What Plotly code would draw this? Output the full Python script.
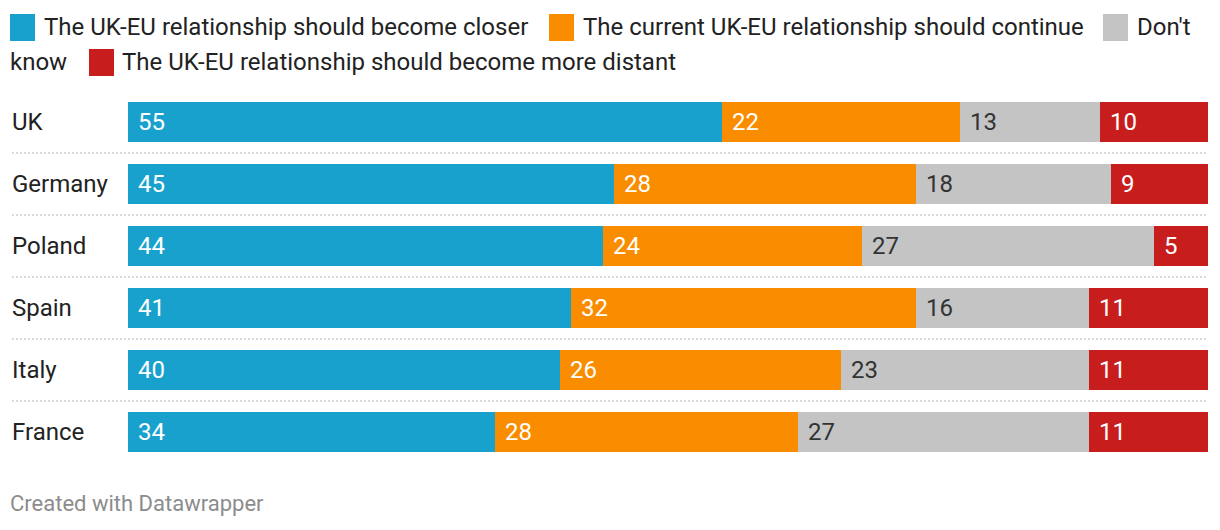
import plotly.graph_objects as go

countries = ["UK", "Germany", "Poland", "Spain", "Italy", "France"]
closer = [55, 45, 44, 41, 40, 34]
continue_ = [22, 28, 24, 32, 26, 28]
dont_know = [13, 18, 27, 16, 23, 27]
distant = [10, 9, 5, 11, 11, 11]

series_names = [
    "The UK-EU relationship should become closer",
    "The current UK-EU relationship should continue",
    "Don't know",
    "The UK-EU relationship should become more distant",
]
series_values = [closer, continue_, dont_know, distant]
colors = ["#18a1cd", "#fa8c00", "#c4c4c4", "#c71e1d"]
label_colors = ["#ffffff", "#ffffff", "#333333", "#ffffff"]

OFF = 8  # page body margin
W, H = 1204, 514
ML, MR, MT, MB = 120, 4, 83, 59
PW = W - ML - MR
PH = H - MT - MB
FONT = "Roboto"
FS = 24


def px_x(px):
    return (px - OFF - ML) / PW


def px_y(py):
    return (H - MB - (py - OFF)) / PH


fig = go.Figure()
for name, vals, col in zip(series_names, series_values, colors):
    fig.add_trace(go.Bar(
        y=countries, x=vals, name=name, orientation="h",
        marker=dict(color=col, line=dict(width=0)),
        width=0.645, showlegend=False, hoverinfo="x+y+name",
    ))

annotations = []
shapes = []

for i, c in enumerate(countries):
    base = 0
    for vals, lc in zip(series_values, label_colors):
        annotations.append(dict(
            x=base, y=c, xref="x", yref="y", text=str(vals[i]),
            showarrow=False, xanchor="left", yanchor="middle", xshift=8,
            font=dict(family=FONT, size=FS, color=lc),
        ))
        base += vals[i]
    annotations.append(dict(
        x=px_x(10), y=c, xref="paper", yref="y", text=c, showarrow=False,
        xanchor="left", yanchor="middle",
        font=dict(family=FONT, size=FS, color="#222222"),
    ))

for i in range(len(countries) - 1):
    shapes.append(dict(
        type="line", xref="paper", yref="y", x0=px_x(12), x1=px_x(1208),
        y0=i + 0.5, y1=i + 0.5,
        line=dict(color="#d9d9d9", width=2, dash="2px,2px"),
    ))

legend_items = [
    (10, 14, colors[0], series_names[0], 42, 27),
    (549, 14, colors[1], series_names[1], 581, 27),
    (1103, 14, colors[2], "Don't", 1135, 27),
    (89, 49, colors[3], series_names[3], 120, 62),
]
for sx, sy, col, txt, tx, ty in legend_items:
    shapes.append(dict(
        type="rect", xref="paper", yref="paper",
        x0=px_x(sx), x1=px_x(sx + 25), y0=px_y(sy), y1=px_y(sy + 27),
        fillcolor=col, line=dict(width=0),
    ))
    annotations.append(dict(
        x=px_x(tx), y=px_y(ty), xref="paper", yref="paper", text=txt,
        showarrow=False, xanchor="left", yanchor="middle",
        font=dict(family=FONT, size=FS, color="#222222"),
    ))
annotations.append(dict(
    x=px_x(8), y=px_y(62), xref="paper", yref="paper", text="know",
    showarrow=False, xanchor="left", yanchor="middle",
    font=dict(family=FONT, size=FS, color="#222222"),
))

annotations.append(dict(
    x=px_x(8), y=px_y(504), xref="paper", yref="paper",
    text="Created with Datawrapper", showarrow=False,
    xanchor="left", yanchor="middle",
    font=dict(family=FONT, size=22, color="#8c8c8c"),
))

fig.update_layout(
    width=W, height=H,
    margin=dict(l=ML, r=MR, t=MT, b=MB),
    barmode="stack", bargap=0,
    paper_bgcolor="white", plot_bgcolor="white",
    xaxis=dict(range=[0, 100], visible=False, fixedrange=True),
    yaxis=dict(categoryorder="array", categoryarray=countries,
               range=[len(countries) - 0.5, -0.5], visible=False, fixedrange=True),
    annotations=annotations, shapes=shapes,
    showlegend=False,
    font=dict(family=FONT),
)

fig.write_html("out.html")
